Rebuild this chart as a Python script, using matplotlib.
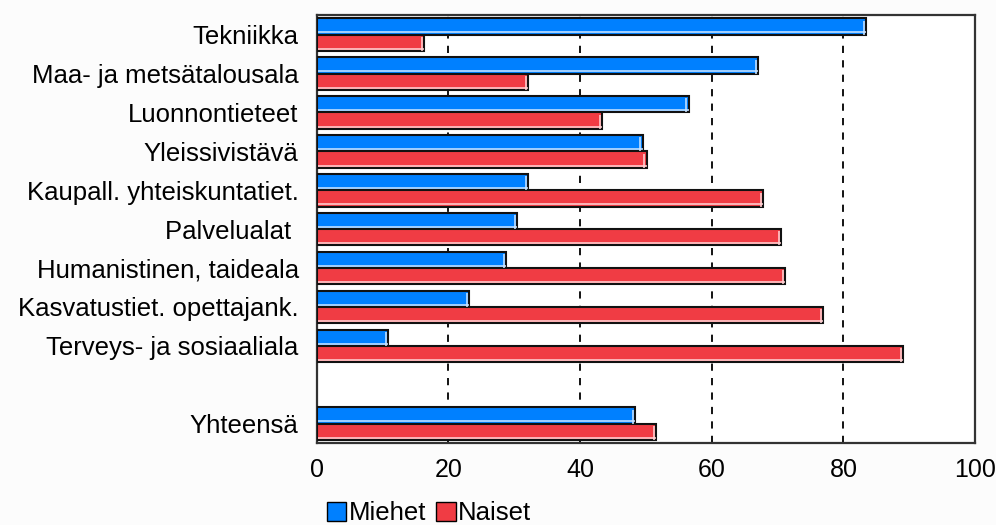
import matplotlib
matplotlib.use("Agg")
import matplotlib.pyplot as plt
from matplotlib.patches import Patch
from matplotlib.transforms import offset_copy
import numpy as np

plt.rcParams['font.family'] = ['Liberation Sans', 'DejaVu Sans']

categories = ['Tekniikka', 'Maa- ja metsätalousala', 'Luonnontieteet',
              'Yleissivistävä', 'Kaupall. yhteiskuntatiet.', 'Palvelualat ',
              'Humanistinen, taideala', 'Kasvatustiet. opettajank.',
              'Terveys- ja sosiaaliala', '', 'Yhteensä']
miehet = [83.5, 67.1, 56.5, 49.5, 32.1, 30.4, 28.8, 23.1, 10.9, None, 48.3]
naiset = [16.3, 32.1, 43.4, 50.1, 67.8, 70.5, 71.1, 76.9, 89.1, None, 51.6]
ticks = [0, 20, 40, 60, 80, 100]

blue = '#0080ff'
red = '#f03c44'

fig = plt.figure(figsize=(9.96, 5.25), dpi=100, facecolor='#fcfcfc')
ax = fig.add_axes([0.318, 0.156, 0.661, 0.815])
ax.set_facecolor('white')

y = np.arange(len(categories))
h = 0.42
idx = [i for i, v in enumerate(miehet) if v is not None]
m_vals = [miehet[i] for i in idx]
n_vals = [naiset[i] for i in idx]
ypos = y[idx]

ax.barh(ypos - h / 2, m_vals, height=h, color=blue, edgecolor='#111111',
        linewidth=1.5, zorder=3)
ax.barh(ypos + h / 2, n_vals, height=h, color=red, edgecolor='#111111',
        linewidth=1.5, zorder=3)

# light bevel along the bottom and right inner edge of each bar
bottom_tr = offset_copy(ax.transData, fig=fig, x=0, y=2.2, units='dots')
right_tr = offset_copy(ax.transData, fig=fig, x=-2.2, y=0, units='dots')
for centre, vals, col in [(ypos - h / 2, m_vals, '#cfe6ff'),
                          (ypos + h / 2, n_vals, '#ffd6d8')]:
    for c, v in zip(centre, vals):
        ax.plot([0.25, v], [c + h / 2, c + h / 2], color=col, lw=1.1,
                transform=bottom_tr, zorder=4, solid_capstyle='butt')
        ax.plot([v, v], [c - h / 2 + 0.06, c + h / 2], color=col, lw=1.1,
                transform=right_tr, zorder=4, solid_capstyle='butt')

for t in ticks[1:-1]:
    ax.axvline(t, color='black', linewidth=1.3, linestyle=(0, (4, 4)), zorder=1)

ax.set_xlim(0, 100)
ax.set_ylim(len(categories) - 0.5, -0.5)
ax.set_xticks(ticks)
ax.set_xticklabels([str(t) for t in ticks], fontsize=18)
ax.set_yticks(y)
ax.set_yticklabels(categories, fontsize=18.5)
ax.tick_params(axis='both', length=0)
ax.tick_params(axis='y', pad=13)
ax.tick_params(axis='x', pad=11)
for s in ax.spines.values():
    s.set_color('#333333')
    s.set_linewidth(1.6)

handles = [Patch(facecolor=blue, edgecolor='black', label='Miehet'),
           Patch(facecolor=red, edgecolor='black', label='Naiset')]
fig.legend(handles=handles, loc='lower left', bbox_to_anchor=(0.305, -0.045),
           ncol=2, frameon=False, fontsize=18.5, handlelength=0.75,
           handleheight=0.75, handletextpad=0.1, columnspacing=0.4)

fig.savefig('out.png', dpi=100, facecolor=fig.get_facecolor())
